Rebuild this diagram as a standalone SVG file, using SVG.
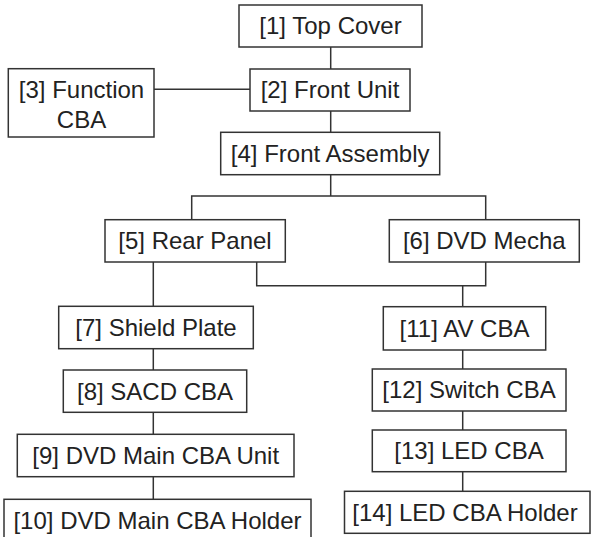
<svg xmlns="http://www.w3.org/2000/svg" width="591" height="537" viewBox="0 0 591 537">
<style>
.box rect{fill:#fff;stroke:#333;stroke-width:1.5}
.box text{font-family:"Liberation Sans",Arial,sans-serif;font-size:24px;fill:#222;text-anchor:middle}
#connectors path{fill:none;stroke:#333;stroke-width:1.5}
</style>
<rect width="591" height="537" fill="#fff"/>
<g id="connectors">
<path d="M330.7 47V69"/>
<path d="M154 89.3H250"/>
<path d="M330.7 111V132"/>
<path d="M330.7 175V196"/>
<path d="M191.7 220V196H485.7V220"/>
<path d="M153.3 262V306"/>
<path d="M256.7 262V285.7H485.7V262"/>
<path d="M462.7 285.7V307"/>
<path d="M153.3 349V370"/>
<path d="M153.3 412V434"/>
<path d="M153.3 477V499"/>
<path d="M462.7 350V369"/>
<path d="M462.7 411V430"/>
<path d="M462.7 472V491"/>
</g>
<g id="n1" class="box"><rect x="239" y="5" width="183" height="42"/><text x="330.5" y="34">[1] Top Cover</text></g>
<g id="n2" class="box"><rect x="250" y="69" width="160" height="42"/><text x="330" y="98">[2] Front Unit</text></g>
<g id="n3" class="box"><rect x="8.3" y="68.7" width="145.7" height="68.3"/><text x="81.5" y="98">[3] Function</text><text x="81.5" y="128.3">CBA</text></g>
<g id="n4" class="box"><rect x="220.7" y="132.3" width="219" height="42.4"/><text x="330.2" y="162">[4] Front Assembly</text></g>
<g id="n5" class="box"><rect x="105" y="219.7" width="180.3" height="42.3"/><text x="195" y="249">[5] Rear Panel</text></g>
<g id="n6" class="box"><rect x="389.3" y="219.7" width="190" height="42.3"/><text x="484.3" y="249">[6] DVD Mecha</text></g>
<g id="n7" class="box"><rect x="58.7" y="306.3" width="194.6" height="42.4"/><text x="156" y="336">[7] Shield Plate</text></g>
<g id="n8" class="box"><rect x="63.3" y="370" width="183.4" height="42.3"/><text x="155" y="399.5">[8] SACD CBA</text></g>
<g id="n9" class="box"><rect x="17.3" y="434.3" width="276.7" height="42.4"/><text x="155.7" y="464">[9] DVD Main CBA Unit</text></g>
<g id="n10" class="box"><rect x="4" y="499.3" width="307" height="50"/><text x="157.5" y="529">[10] DVD Main CBA Holder</text></g>
<g id="n11" class="box"><rect x="383.3" y="306.7" width="162.4" height="43.3"/><text x="464.5" y="336.5">[11] AV CBA</text></g>
<g id="n12" class="box"><rect x="372.3" y="369" width="193.7" height="42"/><text x="469" y="398">[12] Switch CBA</text></g>
<g id="n13" class="box"><rect x="372.3" y="430" width="193.7" height="41.7"/><text x="469" y="459">[13] LED CBA</text></g>
<g id="n14" class="box"><rect x="344.5" y="491.3" width="245.5" height="42"/><text x="465" y="520.5">[14] LED CBA Holder</text></g>
</svg>
